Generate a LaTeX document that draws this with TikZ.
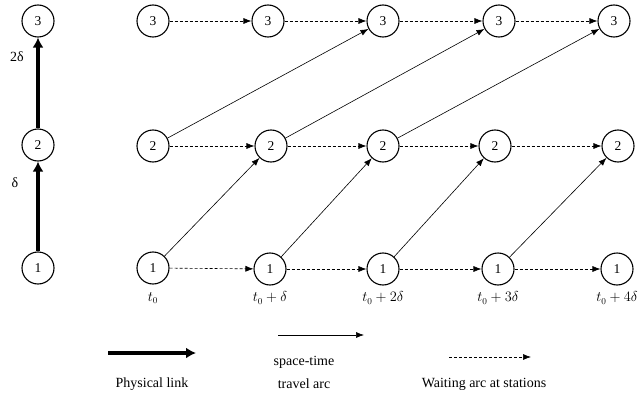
\documentclass[tikz,border=0pt]{standalone}
\usepackage{fontspec}
\setmainfont{Liberation Serif}
\usetikzlibrary{arrows.meta}
\begin{document}
\begin{tikzpicture}[x=1pt,y=-1pt,
  stn/.style={circle,draw,line width=1.1pt,minimum size=32pt,inner sep=0pt,font=\fontsize{13.5}{15}\selectfont},
  travel/.style={draw,line width=0.6pt,-{Latex[length=8pt,width=6pt]}},
  waiting/.style={draw,line width=0.6pt,dash pattern=on 3pt off 2pt,-{Latex[length=8pt,width=6pt]}},
  physical/.style={draw,line width=4pt,-{Latex[length=10pt,width=11pt]}},
  lbl/.style={font=\fontsize{14}{16}\selectfont,inner sep=0pt},
  tlbl/.style={font=\fontsize{13.5}{16}\selectfont,inner sep=0pt}]
\useasboundingbox (0,0) rectangle (640,396);
% left physical network
\node[stn] (p3) at (38,21) {3};
\node[stn] (p2) at (38,145) {2};
\node[stn] (p1) at (38,268) {1};
\draw[physical] (p1) -- (p2);
\draw[physical] (p2) -- (p3);
\node[lbl] (d1) at (15,183) {δ};
\node[lbl] (d2) at (17,57) {2δ};
% time-expanded network
\node[stn] (a3) at (153,21) {3};
\node[stn] (b3) at (268,21) {3};
\node[stn] (c3) at (383,21) {3};
\node[stn] (d3) at (499,21) {3};
\node[stn] (e3) at (614,21) {3};
\node[stn] (a2) at (153,146) {2};
\node[stn] (b2) at (271,146) {2};
\node[stn] (c2) at (383,146) {2};
\node[stn] (d2n) at (495,146) {2};
\node[stn] (e2) at (618,146) {2};
\node[stn] (a1) at (153,268) {1};
\node[stn] (b1) at (270,269) {1};
\node[stn] (c1) at (383,269) {1};
\node[stn] (d1n) at (498,269) {1};
\node[stn] (e1) at (617,269) {1};
% waiting arcs
\draw[waiting] (a3) -- (b3);
\draw[waiting] (b3) -- (c3);
\draw[waiting] (c3) -- (d3);
\draw[waiting] (d3) -- (e3);
\draw[waiting] (a2) -- (b2);
\draw[waiting] (b2) -- (c2);
\draw[waiting] (c2) -- (d2n);
\draw[waiting] (d2n) -- (e2);
\draw[waiting] (a1) -- (b1);
\draw[waiting] (b1) -- (c1);
\draw[waiting] (c1) -- (d1n);
\draw[waiting] (d1n) -- (e1);
% travel arcs
\draw[travel] (a1) -- (b2);
\draw[travel] (b1) -- (c2);
\draw[travel] (c1) -- (d2n);
\draw[travel] (d1n) -- (e2);
\draw[travel] (a2) -- (c3);
\draw[travel] (b2) -- (d3);
\draw[travel] (c2) -- (e3);
% time labels
\node[tlbl] (t0) at (153,298) {$t_0$};
\node[tlbl] (t1) at (270,298) {$t_0+\delta$};
\node[tlbl] (t2) at (383,298) {$t_0+2\delta$};
\node[tlbl] (t3) at (498,298) {$t_0+3\delta$};
\node[tlbl] (t4) at (617,298) {$t_0+4\delta$};
% legend
\coordinate (lp1) at (108,353);
\coordinate (lp2) at (196,353);
\draw[physical] (lp1) -- (lp2);
\node[lbl] (lpt) at (152,384) {Physical link};
\coordinate (lt1) at (278,335);
\coordinate (lt2) at (364,335);
\draw[travel] (lt1) -- (lt2);
\node[lbl] (ltt1) at (304,362) {space-time};
\node[lbl] (ltt2) at (304,384) {travel arc};
\coordinate (lw1) at (449,357);
\coordinate (lw2) at (531,357);
\draw[waiting] (lw1) -- (lw2);
\node[lbl] (lwt) at (484,384) {Waiting arc at stations};
\end{tikzpicture}
\end{document}
